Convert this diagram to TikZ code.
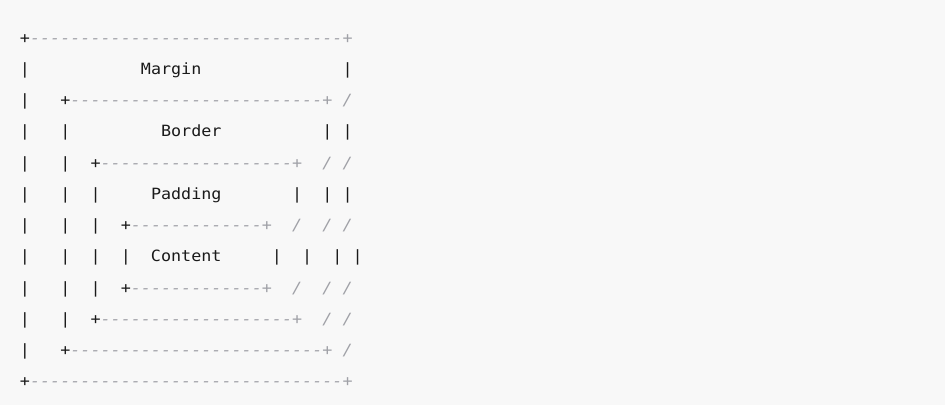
\documentclass[tikz,border=0pt]{standalone}
\usepackage{fontspec}
\newfontfamily\codefont[FakeStretch=1.0802]{DejaVu Sans Mono}
\definecolor{bgc}{HTML}{F8F8F8}
\definecolor{txt}{HTML}{1A1A1A}
\definecolor{cmt}{HTML}{A0A1A7}
\newcount\myrepc
\newcommand\myrep[2]{\myrepc=#1\relax\loop\ifnum\myrepc>0 #2\advance\myrepc by -1\repeat}
\newcommand\dl[1]{\myrep{#1}{-\kern0pt}}
\newcommand\gap[1]{\myrep{#1}{\hphantom{M}}}
\newcommand\cm[1]{\textcolor{cmt}{\itshape #1}}
\begin{document}
\begin{tikzpicture}[x=1pt,y=1pt,
  codeline/.style={anchor=base west, inner sep=0pt, outer sep=0pt,
    font=\codefont\fontsize{15.5}{18}\selectfont, text=txt}]
\fill[bgc] (0,0) rectangle (945,-405);
\useasboundingbox (0,0) rectangle (945,-405);
\node[codeline] (l1)  at (19.96,-43)     {+\cm{\dl{31}+}};
\node[codeline] (l2)  at (19.96,-74.27)  {|\gap{11}Margin\gap{14}|};
\node[codeline] (l3)  at (19.96,-105.54) {|\gap{3}+\cm{\dl{25}+\gap{1}/}};
\node[codeline] (l4)  at (19.96,-136.81) {|\gap{3}|\gap{9}Border\gap{10}|\gap{1}|};
\node[codeline] (l5)  at (19.96,-168.08) {|\gap{3}|\gap{2}+\cm{\dl{19}+\gap{2}/\gap{1}/}};
\node[codeline] (l6)  at (19.96,-199.35) {|\gap{3}|\gap{2}|\gap{5}Padding\gap{7}|\gap{2}|\gap{1}|};
\node[codeline] (l7)  at (19.96,-230.62) {|\gap{3}|\gap{2}|\gap{2}+\cm{\dl{13}+\gap{2}/\gap{2}/\gap{1}/}};
\node[codeline] (l8)  at (19.96,-261.89) {|\gap{3}|\gap{2}|\gap{2}|\gap{2}Content\gap{5}|\gap{2}|\gap{2}|\gap{1}|};
\node[codeline] (l9)  at (19.96,-293.16) {|\gap{3}|\gap{2}|\gap{2}+\cm{\dl{13}+\gap{2}/\gap{2}/\gap{1}/}};
\node[codeline] (l10) at (19.96,-324.43) {|\gap{3}|\gap{2}+\cm{\dl{19}+\gap{2}/\gap{1}/}};
\node[codeline] (l11) at (19.96,-355.7)  {|\gap{3}+\cm{\dl{25}+\gap{1}/}};
\node[codeline] (l12) at (19.96,-386.97) {+\cm{\dl{31}+}};
\end{tikzpicture}
\end{document}
